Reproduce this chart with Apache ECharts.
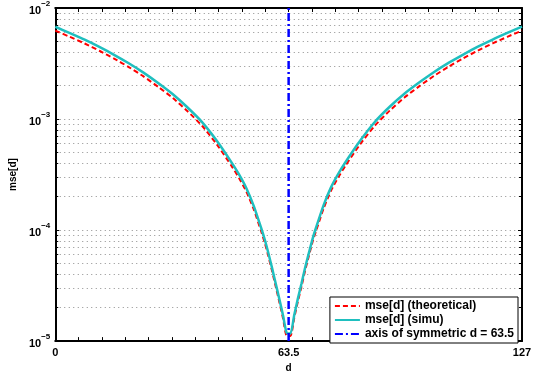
<!DOCTYPE html>
<html>
<head>
<meta charset="utf-8">
<script src="https://cdn.jsdelivr.net/npm/echarts@6/dist/echarts.min.js"></script>
<style>
  html, body { margin: 0; padding: 0; background: #fff; }
  #chart { width: 542px; height: 378px; }
</style>
</head>
<body>
<div id="chart"></div>
<script>
// sample positions along d (shared by both curves)
const dVals = [0, 4, 8, 12, 16, 20, 24, 28, 32, 36, 40, 44, 48, 50, 52, 54, 56, 57, 58, 59, 60, 61, 62, 63,
               64, 65, 66, 67, 68, 69, 70, 71, 73, 75, 77, 79, 83, 87, 91, 95, 99, 103, 107, 111, 115, 119, 123, 127];

// mse[d] (simu)
const simuVals = [6.78e-3, 5.94e-3, 5.18e-3, 4.46e-3, 3.79e-3, 3.18e-3, 2.62e-3, 2.11e-3, 1.67e-3, 1.27e-3, 9.34e-4, 6.34e-4,
                  4.05e-4, 3.17e-4, 2.38e-4, 1.65e-4, 1.05e-4, 8.22e-5, 6.18e-5, 4.54e-5, 3.28e-5, 2.37e-5, 1.69e-5, 1.18e-5,
                  1.17e-5, 1.7e-5, 2.4e-5, 3.3e-5, 4.6e-5, 6.2e-5, 8.3e-5, 1.06e-4, 1.67e-4, 2.41e-4, 3.2e-4, 4.1e-4,
                  6.4e-4, 9.45e-4, 1.29e-3, 1.69e-3, 2.13e-3, 2.64e-3, 3.2e-3, 3.81e-3, 4.48e-3, 5.2e-3, 5.96e-3, 6.8e-3];

// mse[d] (theoretical)
const theoryVals = [6.25e-3, 5.49e-3, 4.79e-3, 4.12e-3, 3.5e-3, 2.94e-3, 2.42e-3, 1.95e-3, 1.545e-3, 1.175e-3, 8.65e-4, 5.88e-4,
                    3.77e-4, 2.95e-4, 2.22e-4, 1.54e-4, 9.8e-5, 7.7e-5, 5.8e-5, 4.27e-5, 3.09e-5, 2.23e-5, 1.59e-5, 1.11e-5,
                    1.11e-5, 1.6e-5, 2.26e-5, 3.1e-5, 4.33e-5, 5.83e-5, 7.8e-5, 9.9e-5, 1.56e-4, 2.25e-4, 2.98e-4, 3.82e-4,
                    5.95e-4, 8.75e-4, 1.19e-3, 1.56e-3, 1.97e-3, 2.44e-3, 2.96e-3, 3.52e-3, 4.14e-3, 4.8e-3, 5.5e-3, 6.27e-3];

const symAxis = 63.5;
const xLabels = [0, 63.5, 127];
const seriesNames = ["mse[d] (theoretical)", "mse[d] (simu)", "axis of symmetric d = 63.5"];

const chart = echarts.init(document.getElementById("chart"));
const font = "Liberation Sans, Arial, sans-serif";
const dotted = { color: "#8c8c8c", width: 1, type: [1, 3.5] };

const yBase = {
  type: "log",
  logBase: 10,
  min: 1e-5,
  max: 1e-2,
  interval: 1,
  axisLine: { show: true, onZero: false, lineStyle: { color: "#000", width: 2 } },
  axisTick: { show: true, inside: true, length: 4, lineStyle: { color: "#000" } },
  minorTick: { show: true, splitNumber: 9, length: 3, lineStyle: { color: "#000" } }
};

chart.setOption({
  backgroundColor: "#fff",
  animation: false,
  textStyle: { fontFamily: font },
  grid: { left: 53, right: 20, top: 7, bottom: 33 },
  legend: {
    data: seriesNames,
    orient: "vertical",
    right: 24,
    bottom: 35,
    itemWidth: 25,
    itemHeight: 10,
    itemGap: 2,
    padding: [3, 4, 3, 4],
    backgroundColor: "#fff",
    borderColor: "#000",
    borderWidth: 1,
    itemStyle: { opacity: 0 },
    textStyle: { fontSize: 12, fontWeight: "bold", color: "#000", fontFamily: font }
  },
  xAxis: [
    {
      type: "value",
      min: 0,
      max: 127,
      interval: 6.35,
      name: "d",
      nameLocation: "middle",
      nameGap: 20,
      nameTextStyle: { fontSize: 10, fontWeight: "bold", color: "#000" },
      axisLine: { show: true, onZero: false, lineStyle: { color: "#000", width: 2 } },
      axisTick: { show: true, inside: true, length: 4, lineStyle: { color: "#000" } },
      axisLabel: {
        interval: 0,
        showMinLabel: true,
        showMaxLabel: true,
        margin: 6,
        fontSize: 11,
        fontWeight: "bold",
        color: "#000",
        formatter: v => (xLabels.some(l => Math.abs(l - v) < 1e-6) ? String(Math.round(v * 10) / 10) : "")
      },
      splitLine: { show: false }
    },
    {
      type: "value",
      position: "top",
      min: 0,
      max: 127,
      interval: 6.35,
      axisLine: { show: true, onZero: false, lineStyle: { color: "#000", width: 2 } },
      axisTick: { show: true, inside: true, length: 4, lineStyle: { color: "#000" } },
      axisLabel: { show: false },
      splitLine: { show: false }
    }
  ],
  yAxis: [
    Object.assign({}, yBase, {
      name: "mse[d]",
      nameLocation: "middle",
      nameGap: 31,
      nameTextStyle: { fontSize: 10, fontWeight: "bold", color: "#000" },
      axisLabel: {
        margin: 5,
        color: "#000",
        formatter: v => "{b|10}{s|−" + Math.round(-Math.log10(v)) + "}",
        rich: {
          b: { fontSize: 11, fontWeight: "bold", color: "#000", fontFamily: font, verticalAlign: "bottom", lineHeight: 16 },
          s: { fontSize: 8, fontWeight: "bold", color: "#000", fontFamily: font, verticalAlign: "top", lineHeight: 8 }
        }
      },
      splitLine: { show: true, lineStyle: dotted },
      minorSplitLine: { show: true, lineStyle: dotted }
    }),
    Object.assign({}, yBase, {
      position: "right",
      axisLabel: { show: false },
      splitLine: { show: false }
    })
  ],
  series: [
    {
      name: seriesNames[0],
      type: "line",
      data: dVals.map((d, i) => [d, theoryVals[i]]),
      symbol: "none",
      smooth: 0.2,
      lineStyle: { color: "#ff0000", width: 2, type: [5, 3] },
      itemStyle: { color: "#ff0000" }
    },
    {
      name: seriesNames[1],
      type: "line",
      data: dVals.map((d, i) => [d, simuVals[i]]),
      symbol: "none",
      smooth: 0.2,
      lineStyle: { color: "#1fbfbf", width: 2.5 },
      itemStyle: { color: "#1fbfbf" }
    },
    {
      name: seriesNames[2],
      type: "line",
      data: [[symAxis, 1e-5], [symAxis, 1e-2]],
      symbol: "none",
      lineStyle: { color: "#0000ff", width: 2.5, type: [8, 3, 2, 3] },
      itemStyle: { color: "#0000ff" }
    }
  ]
});
</script>
</body>
</html>
